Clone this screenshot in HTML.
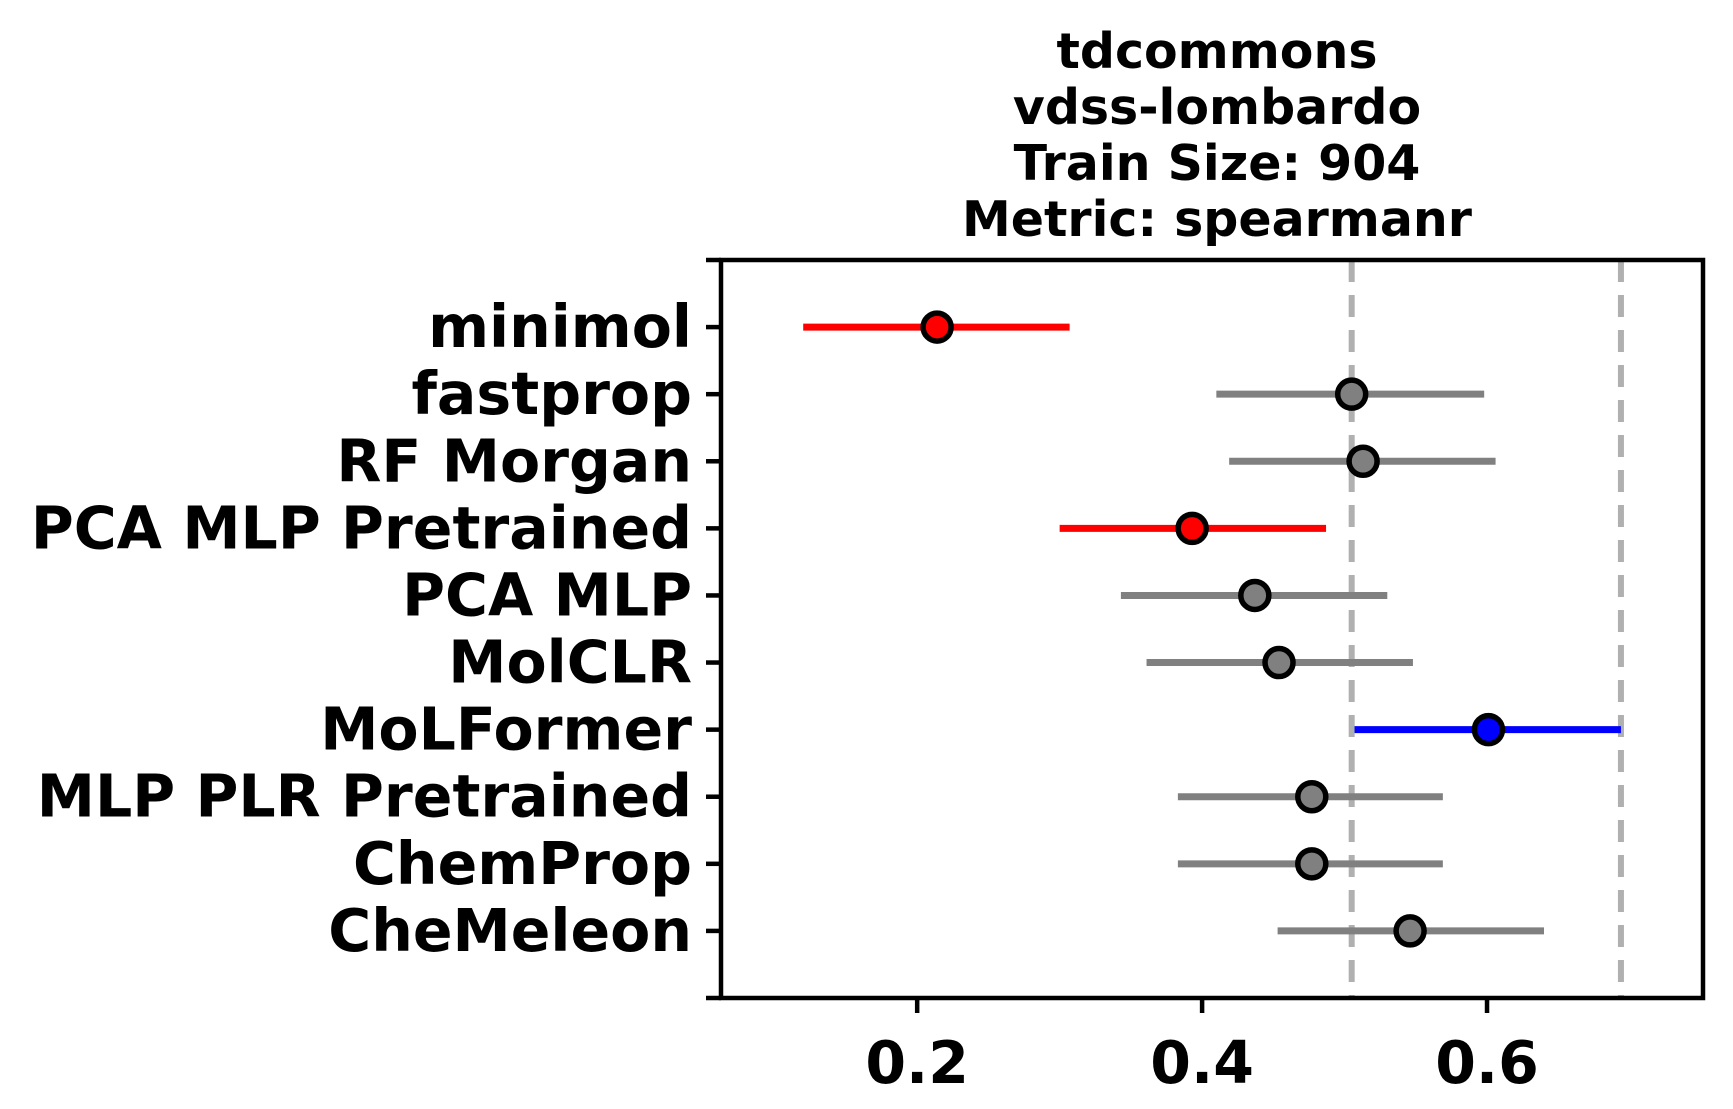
<!DOCTYPE html>
<html><head><meta charset="utf-8"><style>
html,body{margin:0;padding:0;background:#fff;}
svg{display:block;font-family:"DejaVu Sans","Liberation Sans",sans-serif;font-weight:bold;}
</style></head><body>
<svg id="chart" width="1733" height="1109" viewBox="0 0 1733 1109" xmlns="http://www.w3.org/2000/svg">
<g id="title" font-size="49" text-anchor="middle">
<text x="1217" y="68">tdcommons</text>
<text x="1217" y="124">vdss-lombardo</text>
<text x="1217" y="180">Train Size: 904</text>
<text x="1217" y="236">Metric: spearmanr</text>
</g>
<g id="plot"></g>
</svg>
<script>
const models = ["minimol","fastprop","RF Morgan","PCA MLP Pretrained","PCA MLP","MolCLR","MoLFormer","MLP PLR Pretrained","ChemProp","CheMeleon"];
const means = [0.214,0.505,0.513,0.393,0.437,0.454,0.601,0.477,0.477,0.546];
const lows = [0.120,0.410,0.419,0.300,0.343,0.361,0.507,0.383,0.383,0.453];
const highs = [0.307,0.598,0.606,0.487,0.530,0.548,0.694,0.569,0.569,0.640];
const colors = ["red","gray","gray","red","gray","gray","blue","gray","gray","gray"];
const refLines = [0.505,0.694];
const xTicks = [0.2,0.4,0.6];
const xMin = 0.0623, xMax = 0.7516;

const L=721,R=1703,T=260,B=998;
const NS="http://www.w3.org/2000/svg";
const g=document.getElementById('plot');
function X(v){return L+(v-xMin)/(xMax-xMin)*(R-L);}
function Y(i){return T+(i+1)/(models.length+1)*(B-T);}
function mk(tag,attrs,parent){const e=document.createElementNS(NS,tag);for(const k in attrs)e.setAttribute(k,attrs[k]);(parent||g).appendChild(e);return e;}
const cmap={red:"#ff0000",gray:"#808080",blue:"#0000ff"};

refLines.forEach(v=>{
  const l=mk('line',{x1:X(v),x2:X(v),y1:T,y2:B,stroke:"#b0b0b0","stroke-width":6,"stroke-dasharray":"22 13"});
  
  
});
models.forEach((m,i)=>{
  const y=Y(i);
  const eb=mk('line',{x1:X(lows[i]),x2:X(highs[i]),y1:y,y2:y,stroke:cmap[colors[i]],"stroke-width":7});
  
  
  const c=mk('circle',{cx:X(means[i]),cy:y,r:14,fill:cmap[colors[i]],stroke:"#000","stroke-width":5.5});
  
  
  const tk=mk('line',{x1:L-15,x2:L,y1:y,y2:y,stroke:"#000","stroke-width":4.5});
  
  
  const t=mk('text',{x:L-29,y:y+20,"text-anchor":"end","font-size":58.5});
  t.textContent=m;
  
  
});
[T,B].forEach(y=>{
  const tk=mk('line',{x1:L-15,x2:L,y1:y,y2:y,stroke:"#000","stroke-width":4.5});
  
  
});
xTicks.forEach(v=>{
  const tk=mk('line',{x1:X(v),x2:X(v),y1:B,y2:B+15,stroke:"#000","stroke-width":4.5});
  
  
  const t=mk('text',{x:X(v),y:B+85,"text-anchor":"middle","font-size":58.5});
  t.textContent=v.toFixed(1);
  
  
});
const fr=mk('rect',{x:L,y:T,width:R-L,height:B-T,fill:"none",stroke:"#000","stroke-width":4.5});


</script>
</body></html>
